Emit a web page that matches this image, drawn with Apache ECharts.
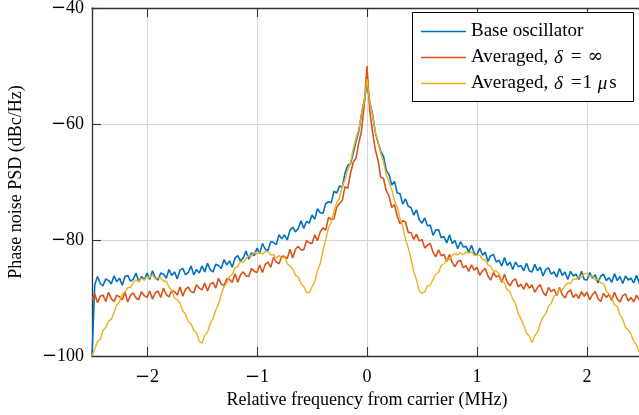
<!DOCTYPE html>
<html><head><meta charset="utf-8">
<script src="https://cdn.jsdelivr.net/npm/echarts@6/dist/echarts.min.js"></script>
<style>html,body{margin:0;padding:0;background:#fff}#c{width:639px;height:415px}</style>
</head><body><div id="c"></div>
<script>
const freq = [
-2.5,-2.475,-2.45,-2.425,-2.4,-2.375,-2.35,-2.325,-2.3,-2.275,
-2.25,-2.225,-2.2,-2.175,-2.15,-2.125,-2.1,-2.075,-2.05,-2.025,
-2,-1.975,-1.95,-1.925,-1.9,-1.875,-1.85,-1.825,-1.8,-1.775,
-1.75,-1.725,-1.7,-1.675,-1.65,-1.625,-1.6,-1.575,-1.55,-1.525,
-1.5,-1.475,-1.45,-1.425,-1.4,-1.375,-1.35,-1.325,-1.3,-1.275,
-1.25,-1.225,-1.2,-1.175,-1.15,-1.125,-1.1,-1.075,-1.05,-1.025,
-1,-0.975,-0.95,-0.925,-0.9,-0.875,-0.85,-0.825,-0.8,-0.775,
-0.75,-0.725,-0.7,-0.675,-0.65,-0.625,-0.6,-0.575,-0.55,-0.525,
-0.5,-0.475,-0.45,-0.425,-0.4,-0.375,-0.35,-0.325,-0.3,-0.275,
-0.25,-0.225,-0.2,-0.175,-0.15,-0.125,-0.1,-0.075,-0.05,-0.025,
0,
0.025,0.05,0.075,0.1,0.125,0.15,0.175,0.2,0.225,0.25,
0.275,0.3,0.325,0.35,0.375,0.4,0.425,0.45,0.475,0.5,
0.525,0.55,0.575,0.6,0.625,0.65,0.675,0.7,0.725,0.75,
0.775,0.8,0.825,0.85,0.875,0.9,0.925,0.95,0.975,1,
1.025,1.05,1.075,1.1,1.125,1.15,1.175,1.2,1.225,1.25,
1.275,1.3,1.325,1.35,1.375,1.4,1.425,1.45,1.475,1.5,
1.525,1.55,1.575,1.6,1.625,1.65,1.675,1.7,1.725,1.75,
1.775,1.8,1.825,1.85,1.875,1.9,1.925,1.95,1.975,2,
2.025,2.05,2.075,2.1,2.125,2.15,2.175,2.2,2.225,2.25,
2.275,2.3,2.325,2.35,2.375,2.4,2.425,2.45,2.475,2.5
];
const baseOsc = [
-100,-87.7,-86.3,-87.5,-87.9,-86.7,-87.0,-87.6,-86.2,-87.2,
-86.6,-87.8,-86.3,-86.1,-87.1,-86.8,-85.7,-87.2,-86.3,-86.9,
-85.7,-86.8,-85.3,-86.5,-86.9,-85.7,-85.9,-86.6,-85.1,-86.1,
-85.5,-86.7,-85.2,-84.9,-86.0,-85.6,-84.5,-86.0,-85.1,-85.7,
-84.5,-85.5,-84.0,-85.1,-85.5,-84.2,-84.4,-84.9,-83.4,-84.3,
-83.6,-84.7,-83.1,-82.7,-83.6,-83.1,-81.9,-83.3,-82.2,-82.7,
-81.4,-82.3,-80.6,-81.6,-81.8,-80.3,-80.4,-80.8,-79.1,-79.8,
-79.1,-80.0,-78.3,-77.8,-78.6,-78.0,-76.7,-78.0,-76.8,-77.1,
-75.7,-76.4,-74.6,-75.3,-75.4,-73.7,-73.4,-73.6,-71.6,-71.9,
-70.7,-70.9,-68.5,-67.1,-66.9,-65.0,-63.0,-61.3,-58.3,-56.0,
-53.0,
-56.2,-58.3,-61.4,-63.2,-64.7,-65.6,-68.0,-68.7,-70.5,-69.9,
-71.9,-72.0,-73.8,-72.9,-74.2,-74.4,-75.7,-74.8,-76.5,-77.1,
-76.2,-77.6,-77.4,-79.2,-78.3,-78.2,-79.6,-79.4,-80.5,-79.1,
-80.6,-80.1,-81.5,-80.3,-81.2,-81.1,-82.1,-80.9,-82.3,-82.6,
-81.4,-82.6,-82.1,-83.7,-82.7,-82.5,-83.8,-83.5,-84.5,-83.0,
-84.4,-83.8,-85.1,-83.8,-84.6,-84.4,-85.3,-84.0,-85.3,-85.5,
-84.2,-85.3,-84.7,-86.2,-85.1,-84.8,-85.9,-85.5,-86.4,-84.9,
-86.1,-85.5,-86.8,-85.4,-86.2,-85.9,-86.8,-85.4,-86.8,-86.9,
-85.6,-86.6,-86.0,-87.4,-86.2,-85.9,-87.0,-86.5,-87.3,-85.8,
-87.0,-86.3,-87.5,-86.2,-86.9,-86.6,-87.4,-86.1,-87.4,-87.5
];
const avgInf = [
-90.4,-89.3,-90.8,-89.7,-89.5,-90.6,-89.0,-90.1,-90.6,-89.5,
-89.8,-90.3,-89.0,-90.7,-89.5,-89.1,-90.0,-90.3,-88.9,-89.6,
-89.9,-88.8,-90.2,-89.1,-88.8,-89.9,-88.3,-89.4,-89.8,-88.7,
-88.9,-89.5,-88.1,-89.7,-88.5,-88.1,-88.9,-89.1,-87.7,-88.3,
-88.6,-87.4,-88.8,-87.6,-87.3,-88.3,-86.6,-87.6,-87.9,-86.7,
-86.8,-87.3,-85.8,-87.3,-86.0,-85.5,-86.2,-86.3,-84.9,-85.4,
-85.6,-84.3,-85.6,-84.2,-83.8,-84.7,-83.0,-83.8,-84.1,-82.8,
-82.8,-83.2,-81.6,-83.1,-81.6,-81.1,-81.7,-81.7,-80.1,-80.5,
-80.6,-79.1,-80.1,-78.6,-77.9,-78.3,-76.1,-76.5,-76.3,-74.3,
-73.7,-73.2,-70.8,-71.1,-68.5,-66.6,-65.9,-63.3,-61.2,-56.7,
-50.0,
-57.7,-61.3,-64.4,-66.2,-69.2,-69.4,-71.5,-72.4,-74.4,-73.9,
-75.9,-77.2,-76.7,-76.9,-78.7,-78.7,-79.9,-79.0,-80.2,-79.9,
-81.4,-80.9,-80.6,-82.1,-82.9,-81.7,-82.7,-82.5,-83.7,-82.5,
-83.9,-84.6,-83.7,-83.5,-84.8,-84.4,-85.4,-84.3,-85.2,-84.7,
-86.1,-85.3,-84.9,-86.2,-86.9,-85.6,-86.4,-86.1,-87.3,-85.9,
-87.3,-87.9,-87.0,-86.7,-88.1,-87.6,-88.5,-87.4,-88.3,-87.7,
-89.0,-88.2,-87.7,-89.0,-89.6,-88.2,-88.9,-88.5,-89.6,-88.2,
-89.4,-90.0,-89.0,-88.6,-89.9,-89.3,-90.1,-88.9,-89.7,-89.0,
-90.3,-89.4,-88.9,-90.1,-90.6,-89.2,-89.9,-89.4,-90.4,-89.0,
-90.2,-90.7,-89.6,-89.3,-90.5,-89.9,-90.7,-89.5,-90.3,-89.6
];
const avg1us = [
-100,-98.8,-97.5,-97.1,-95.6,-95.1,-94.0,-93.7,-92.5,-91.2,
-90.7,-89.3,-89.0,-88.2,-88.2,-87.3,-86.9,-87.1,-86.6,-86.9,
-86.3,-86.5,-86.0,-86.7,-86.5,-86.5,-87.1,-87.1,-88.1,-88.7,
-90.0,-90.3,-90.9,-92.2,-92.8,-94.1,-94.4,-95.6,-96.0,-97.4,
-97.8,-96.4,-95.9,-94.4,-93.5,-92.1,-91.1,-89.4,-88.1,-87.4,
-86.3,-85.9,-84.8,-84.6,-83.7,-83.9,-83.2,-82.7,-82.8,-82.1,
-82.4,-82.1,-82.4,-82.0,-82.0,-82.6,-82.5,-83.1,-82.7,-83.1,
-82.9,-84.1,-84.5,-85.0,-86.1,-86.4,-87.5,-88.0,-89.0,-89.1,
-88.1,-87.2,-85.3,-84.1,-81.8,-79.9,-77.9,-76.9,-75.0,-73.6,
-72.7,-70.7,-69.6,-67.9,-66.7,-64.3,-62.5,-61.0,-58.2,-56.1,
-52.3,
-56.2,-58.5,-61.3,-63.0,-65.1,-66.5,-68.8,-70.0,-71.3,-73.2,
-74.3,-76.3,-77.7,-79.9,-81.4,-83.2,-85.5,-86.9,-88.8,-89.2,
-89.0,-87.9,-87.8,-86.8,-85.9,-85.6,-84.4,-84.1,-83.4,-83.4,
-82.6,-82.3,-82.6,-82.2,-82.6,-82.0,-82.3,-82.0,-82.7,-82.6,
-82.6,-83.4,-83.4,-84.3,-84.6,-85.4,-85.4,-85.8,-87.0,-87.4,
-88.6,-88.9,-90.2,-90.9,-92.7,-93.6,-94.7,-96.1,-96.5,-97.7,
-96.5,-95.9,-94.4,-93.3,-92.7,-91.4,-90.9,-89.7,-89.4,-88.5,
-88.6,-87.9,-87.4,-87.5,-86.7,-86.8,-86.3,-86.5,-85.8,-85.7,
-86.3,-86.2,-86.9,-86.7,-87.4,-87.5,-88.8,-89.3,-90.0,-91.2,
-91.5,-92.9,-93.7,-95.1,-95.5,-96.2,-97.5,-98.1,-99.3,-100
];
const seriesNames = ['Base oscillator', 'Averaged, δ = ∞', 'Averaged, δ =1 μs'];
const legendRich = ['Base oscillator', 'Averaged, {i|δ}{eq|=}{inf|∞}', 'Averaged, {i|δ}{eq1|=}1 {i|μ}s'];
const colors = ['#0072BD', '#D95319', '#EDB120'];
const xTitle = 'Relative frequency from carrier (MHz)';
const yTitle = 'Phase noise PSD (dBc/Hz)';
const xRange = [-2.5, 2.5];
const yRange = [-100, -40];
const yStep = 20;

const FONT = 'Liberation Serif';
const AX = '#333333';
const GRIDC = '#d6d6d6';
function pairs(v) { return freq.map((f, i) => [f, v[i]]); }
function fmt(v) { return v < 0 ? '{m|\u2212}' + Math.abs(v) : String(v); }
const labelRich = { m: { fontFamily: 'DejaVu Serif', fontSize: 18, color: '#000' } };
const LF = 19;

const chart = echarts.init(document.getElementById('c'), null, { renderer: 'canvas' });
const axisCommon = {
  axisLine: { show: true, onZero: false, lineStyle: { color: AX, width: 1.3 } },
  axisTick: { show: true, inside: true, length: 9, lineStyle: { color: AX, width: 1.1 } }
};
chart.setOption({
  animation: false,
  backgroundColor: '#fff',
  grid: { left: 92, right: -3, top: 8, bottom: 59, containLabel: false, outerBoundsMode: 'none' },
  graphic: [{
    type: 'rect', left: 412, top: 12, z: 3, silent: true,
    shape: { width: 221, height: 89 },
    style: { fill: '#fff', stroke: '#000', lineWidth: 1 }
  }],
  legend: {
    show: true,
    data: seriesNames,
    orient: 'vertical',
    left: 412, top: 12, z: 5,
    padding: [10, 0, 9, 9],
    itemGap: 7,
    itemWidth: 45, itemHeight: 1.5,
    itemTextGap: 6,
    icon: 'rect',
    borderWidth: 0,
    formatter: function (name) { return legendRich[seriesNames.indexOf(name)]; },
    textStyle: { fontFamily: FONT, fontSize: LF, color: '#000',
      rich: {
        i: { fontFamily: FONT, fontSize: LF, fontStyle: 'italic', color: '#000', padding: [0, 2, 0, 1] },
        eq: { fontFamily: FONT, fontSize: LF, color: '#000', padding: [0, 6, 0, 6] },
        eq1: { fontFamily: FONT, fontSize: LF, color: '#000', padding: [0, 1, 0, 6] },
        inf: { fontFamily: 'DejaVu Serif', fontSize: LF, color: '#000' }
      } }
  },
  xAxis: [
    Object.assign({
      type: 'value', min: xRange[0], max: xRange[1], splitNumber: 5, position: 'bottom',
      axisLabel: { formatter: fmt, fontFamily: FONT, fontSize: 18, color: '#000', margin: 12,
        showMinLabel: false, showMaxLabel: false, rich: labelRich },
      splitLine: { show: true, lineStyle: { color: GRIDC, width: 1 } },
      name: xTitle, nameLocation: 'middle', nameGap: 35,
      nameTextStyle: { fontFamily: FONT, fontSize: 18, color: '#000' }
    }, axisCommon),
    Object.assign({
      type: 'value', min: xRange[0], max: xRange[1], splitNumber: 5, position: 'top',
      axisLabel: { show: false }, splitLine: { show: false }
    }, axisCommon)
  ],
  yAxis: [
    Object.assign({
      type: 'value', min: yRange[0], max: yRange[1], interval: yStep, position: 'left',
      axisLabel: { formatter: fmt, fontFamily: FONT, fontSize: 18, color: '#000', margin: 8, rich: labelRich },
      splitLine: { show: true, lineStyle: { color: GRIDC, width: 1 } },
      name: yTitle, nameLocation: 'middle', nameGap: 67, nameRotate: 90,
      nameTextStyle: { fontFamily: FONT, fontSize: 18, color: '#000' }
    }, axisCommon)
  ],
  series: [baseOsc, avgInf, avg1us].map((v, s) => ({
    name: seriesNames[s], type: 'line', xAxisIndex: 0, yAxisIndex: 0,
    data: pairs(v), showSymbol: false, symbol: 'none', sampling: null,
    lineStyle: { color: colors[s], width: s === 2 ? 1.4 : 1.6 }, itemStyle: { color: colors[s] },
    emphasis: { disabled: true }, clip: true
  }))
});
</script></body></html>
